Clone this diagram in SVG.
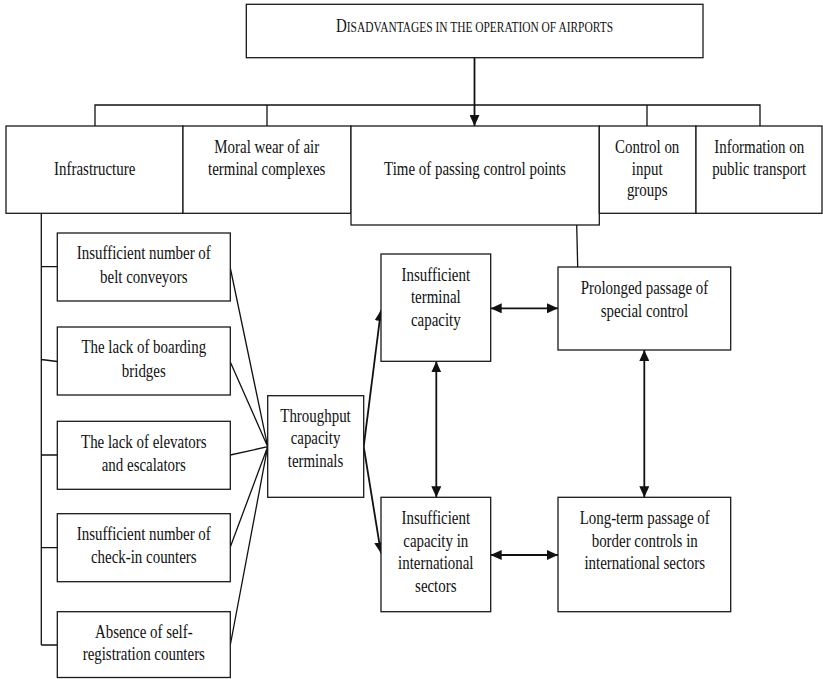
<svg xmlns="http://www.w3.org/2000/svg" width="823" height="679" viewBox="0 0 823 679">
<style>
rect{fill:#fff;stroke:#1a1a1a;stroke-width:1.3}
text{font-family:"Liberation Serif","Times New Roman",serif;font-size:18.67px;fill:#111;text-anchor:middle}
.c line,.c path{stroke:#111;stroke-width:1.3;fill:none}
.c .a{stroke-width:1.8}
.sc{font-size:14.3px}
</style>
<defs>
<marker id="ah" viewBox="0 0 11 10" refX="11" refY="5" markerWidth="11" markerHeight="10" markerUnits="userSpaceOnUse" orient="auto-start-reverse">
<path d="M0,0 L11,5 L0,10 z" fill="#111"/>
</marker>
</defs>
<rect x="0" y="0" width="823" height="679" style="stroke:none"/>

<g class="c" id="connectors">
<line x1="474.5" y1="57.7" x2="474.5" y2="126" class="a" marker-end="url(#ah)"/>
<path d="M95,126 V105 H760 V126 M267,105 V126 M647,105 V126"/>
<path d="M41.3,213.3 V645 M41.3,266.7 H57.3 M41.3,359.5 L57.3,361.5 M41.3,455 H57.3 M41.3,547.7 H57.3 M41.3,645 H57.3"/>
<path d="M230.3,268 L267.7,446.7 M230.3,362 L267.7,446.7 M230.3,455 L267.7,446.7 M230.3,547 L267.7,446.7 M230.3,645 L267.7,446.7"/>
<line x1="576.7" y1="225" x2="577.7" y2="267"/>
<line x1="363.7" y1="446.7" x2="381" y2="310" class="a" marker-end="url(#ah)"/>
<line x1="363.7" y1="446.7" x2="381" y2="553.3" class="a" marker-end="url(#ah)"/>
<line x1="490.7" y1="308.3" x2="558" y2="308.3" class="a" marker-start="url(#ah)" marker-end="url(#ah)"/>
<line x1="436.3" y1="361.3" x2="436.3" y2="497.3" class="a" marker-start="url(#ah)" marker-end="url(#ah)"/>
<line x1="644.3" y1="350" x2="644.3" y2="497.3" class="a" marker-start="url(#ah)" marker-end="url(#ah)"/>
<line x1="490.7" y1="555" x2="558" y2="555" class="a" marker-start="url(#ah)" marker-end="url(#ah)"/>
</g>

<g id="n-title">
<rect x="246.3" y="4.3" width="456.7" height="53.4"/>
<text transform="scale(0.8 1)" x="593.1" y="31.7">D<tspan class="sc">ISADVANTAGES IN THE OPERATION OF AIRPORTS</tspan></text>
</g>

<g id="n-infra">
<rect x="6" y="126" width="177" height="87.3"/>
<text transform="scale(0.8 1)" x="118.4" y="175">Infrastructure</text>
</g>
<g id="n-moral">
<rect x="183" y="126" width="168" height="87.3"/>
<text transform="scale(0.8 1)" x="333.4" y="153.3">Moral wear of air<tspan x="333.4" y="175">terminal complexes</tspan></text>
</g>
<g id="n-time">
<rect x="351" y="126" width="248.3" height="99"/>
<text transform="scale(0.8 1)" x="593.75" y="175">Time of passing control points</text>
</g>
<g id="n-control">
<rect x="599.3" y="126" width="96.7" height="87.3"/>
<text transform="scale(0.8 1)" x="809" y="153.3">Control on<tspan x="809" y="175">input</tspan><tspan x="809" y="196.5">groups</tspan></text>
</g>
<g id="n-info">
<rect x="696" y="126" width="126" height="87.3"/>
<text transform="scale(0.8 1)" x="949" y="153.3">Information on<tspan x="949" y="175">public transport</tspan></text>
</g>

<g id="n-belt">
<rect x="57.3" y="233" width="173" height="68"/>
<text transform="scale(0.8 1)" x="179.75" y="259.3">Insufficient number of<tspan x="179.75" y="283.3">belt conveyors</tspan></text>
</g>
<g id="n-bridges">
<rect x="57.3" y="327" width="173" height="68"/>
<text transform="scale(0.8 1)" x="179.75" y="353.5">The lack of boarding<tspan x="179.75" y="377">bridges</tspan></text>
</g>
<g id="n-elevators">
<rect x="57.3" y="421.3" width="173" height="68"/>
<text transform="scale(0.8 1)" x="179.75" y="448">The lack of elevators<tspan x="179.75" y="471">and escalators</tspan></text>
</g>
<g id="n-checkin">
<rect x="57.3" y="513.7" width="173" height="68"/>
<text transform="scale(0.8 1)" x="179.75" y="540">Insufficient number of<tspan x="179.75" y="563">check-in counters</tspan></text>
</g>
<g id="n-self">
<rect x="57.3" y="611.7" width="173" height="65.8"/>
<text transform="scale(0.8 1)" x="179.75" y="637.7">Absence of self-<tspan x="179.75" y="660.5">registration counters</tspan></text>
</g>

<g id="n-throughput">
<rect x="267.7" y="395.7" width="96" height="101.6"/>
<text transform="scale(0.8 1)" x="394.4" y="422.3">Throughput<tspan x="394.4" y="444.5">capacity</tspan><tspan x="394.4" y="466.7">terminals</tspan></text>
</g>

<g id="n-termcap">
<rect x="381" y="254" width="109.7" height="107.3"/>
<text transform="scale(0.8 1)" x="544.75" y="281">Insufficient<tspan x="544.75" y="303.5">terminal</tspan><tspan x="544.75" y="326">capacity</tspan></text>
</g>
<g id="n-intcap">
<rect x="381" y="497.3" width="109.7" height="114.4"/>
<text transform="scale(0.8 1)" x="544.75" y="524">Insufficient<tspan x="544.75" y="546.7">capacity in</tspan><tspan x="544.75" y="569">international</tspan><tspan x="544.75" y="591.7">sectors</tspan></text>
</g>
<g id="n-prolonged">
<rect x="558" y="267" width="172.7" height="83"/>
<text transform="scale(0.8 1)" x="805.6" y="294.3">Prolonged passage of<tspan x="805.6" y="316.7">special control</tspan></text>
</g>
<g id="n-longterm">
<rect x="558" y="497.3" width="172.7" height="114.4"/>
<text transform="scale(0.8 1)" x="805.9" y="524">Long-term passage of<tspan x="805.9" y="546.7">border controls in</tspan><tspan x="805.9" y="569.3">international sectors</tspan></text>
</g>
</svg>
